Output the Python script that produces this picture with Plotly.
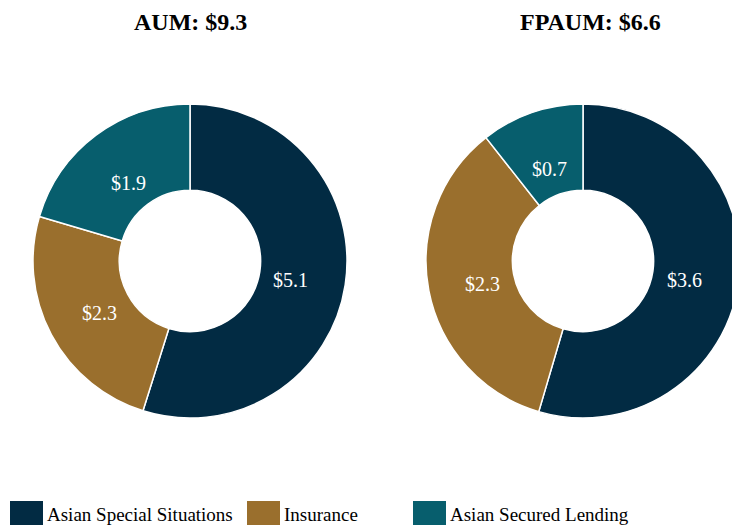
import math
import plotly.graph_objects as go

categories = ["Asian Special Situations", "Insurance", "Asian Secured Lending"]
aum_values = [5.1, 2.3, 1.9]
fpaum_values = [3.6, 2.3, 0.7]
titles = ["AUM: $9.3", "FPAUM: $6.6"]
colors = ["#022B43", "#9A6F2D", "#075E6D"]

W, H = 740, 525
FONT = "Liberation Serif, Times New Roman, serif"
HOLE = 0.45

def px(x):
    return x / W

def py(y):
    return 1 - y / H

fig = go.Figure()

ydom = [py(418), py(104)]
pies = [
    (aum_values, [px(33), px(347)]),
    (fpaum_values, [px(426), px(740)]),
]

for values, xdom in pies:
    fig.add_trace(go.Pie(
        labels=categories,
        values=values,
        textinfo="none",
        hoverinfo="label+value",
        sort=False,
        direction="clockwise",
        rotation=0,
        hole=HOLE,
        marker=dict(colors=colors, line=dict(color="white", width=1.5)),
        domain=dict(x=xdom, y=ydom),
        showlegend=False,
    ))
    # value labels at the middle of each slice (derived from the data)
    cx = (xdom[0] + xdom[1]) / 2 * W
    cy = (1 - (ydom[0] + ydom[1]) / 2) * H
    R = min((xdom[1] - xdom[0]) * W, (ydom[1] - ydom[0]) * H) / 2
    total = sum(values)
    cum = 0.0
    for v in values:
        mid = (cum + v / 2) / total * 2 * math.pi
        cum += v
        r = 0.65 * R
        lx = cx + r * math.sin(mid)
        ly = cy - r * math.cos(mid) + 4
        fig.add_annotation(text="$" + f"{v:.1f}", x=px(lx), y=py(ly), xref="paper", yref="paper",
                           showarrow=False, font=dict(family=FONT, size=20, color="white"),
                           xanchor="center", yanchor="middle")

# titles
for t, cx in zip(titles, [190, 590]):
    fig.add_annotation(text="<b>" + t + "</b>", x=px(cx), y=py(22), xref="paper", yref="paper",
                       showarrow=False, font=dict(family=FONT, size=24, color="black"),
                       xanchor="center", yanchor="middle")

# legend (manual)
sq_x = [10, 247, 413]
for cat, col, x0 in zip(categories, colors, sq_x):
    fig.add_shape(type="rect", xref="paper", yref="paper",
                  x0=px(x0), x1=px(x0 + 33), y0=py(540), y1=py(501),
                  fillcolor=col, line=dict(width=0))
    fig.add_annotation(text=cat, x=px(x0 + 35), y=py(514), xref="paper", yref="paper",
                       showarrow=False, font=dict(family=FONT, size=19, color="black"),
                       xanchor="left", yanchor="middle")

fig.update_layout(
    width=W, height=H,
    margin=dict(l=0, r=0, t=0, b=0),
    paper_bgcolor="white", plot_bgcolor="white",
    showlegend=False,
)

fig.write_html(
    "out.html",
    config={"displayModeBar": False},
    post_script="document.body.style.margin='0';document.body.style.overflow='hidden';"
                "document.documentElement.style.overflow='hidden';",
)
